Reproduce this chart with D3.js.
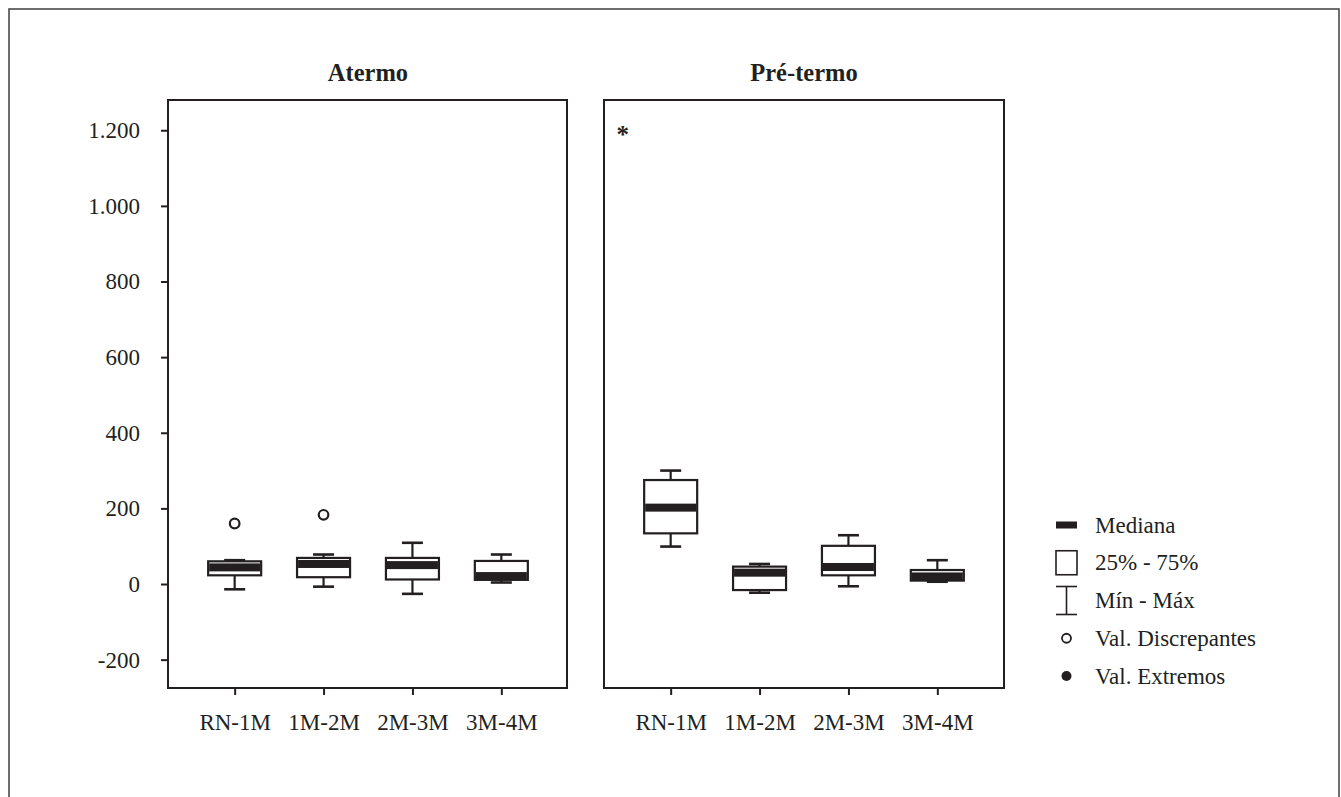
<!DOCTYPE html>
<html><head><meta charset="utf-8">
<script src="https://cdn.jsdelivr.net/npm/d3@7"></script>
<style>
body{margin:0;background:#fff}
svg{display:block}
text{font-family:"Liberation Serif","Times New Roman",serif;fill:#231f20}
</style>
</head><body>
<svg id="c" width="1341" height="797"></svg>
<script>
const categories = ["RN-1M","1M-2M","2M-3M","3M-4M"];
const groups = ["Atermo","Pré-termo"];
const yTicks = [-200,0,200,400,600,800,1000,1200];
const legendItems = ["Mediana","25% - 75%","Mín - Máx","Val. Discrepantes","Val. Extremos"];

// Atermo
const atermoMin    = [-14, -7, -26, 4];
const atermoQ1     = [23, 18, 12, 11];
const atermoMedian = [44, 53, 50, 21];
const atermoQ3     = [60, 69, 69, 61];
const atermoMax    = [63, 78, 109, 78];
const atermoOutliers = [[160],[183],[],[]];
const atermoExtremes = [[],[],[],[]];

// Pré-termo
const pretermoMin    = [99, -23, -6, 6];
const pretermoQ1     = [134, -16, 23, 9];
const pretermoMedian = [202, 30, 45, 20];
const pretermoQ3     = [275, 46, 101, 37];
const pretermoMax    = [300, 53, 129, 63];
const pretermoOutliers = [[],[],[],[]];
const pretermoExtremes = [[1200],[],[],[]];

const series = [
  {min:atermoMin,q1:atermoQ1,med:atermoMedian,q3:atermoQ3,max:atermoMax,out:atermoOutliers,ext:atermoExtremes},
  {min:pretermoMin,q1:pretermoQ1,med:pretermoMedian,q3:pretermoQ3,max:pretermoMax,out:pretermoOutliers,ext:pretermoExtremes}
];

const ink = "#231f20";
const fontSize = 23;
const svg = d3.select("#c");

// outer frame
svg.append("rect").attr("x",9).attr("y",9).attr("width",1330).attr("height",800)
  .attr("fill","none").attr("stroke","#4a4a4a").attr("stroke-width",1.6);

const plotTop = 100, plotBottom = 688, panelW = 400;
const panelX = [168, 604];
const y = d3.scaleLinear().domain([-275,1280]).range([plotBottom, plotTop]);
const x = d3.scalePoint().domain(categories).range([0, panelW]).padding(0.75);
const loc = d3.formatLocale({decimal:",", thousands:".", grouping:[3], currency:["",""], minus:"-"});
const fmt = loc.format(",d");

const boxW = 53, capW = 21, medH = 8;

groups.forEach((gname, gi) => {
  const s = series[gi];
  const g = svg.append("g").attr("transform", `translate(${panelX[gi]},0)`);

  g.append("text").attr("x", panelW/2).attr("y", 81).attr("text-anchor","middle")
    .attr("font-weight","bold").attr("font-size", 24.5).text(gname);

  // x axis
  const xa = g.append("g").attr("transform", `translate(0,${plotBottom})`)
    .call(d3.axisBottom(x).tickSize(7).tickSizeOuter(0).tickPadding(19));
  xa.select(".domain").remove();
  xa.selectAll(".tick line").attr("stroke", ink).attr("stroke-width", 2);
  xa.selectAll(".tick text").attr("font-size", fontSize).attr("font-family","Liberation Serif, serif").attr("fill", ink);

  if (gi === 0) {
    const ya = g.append("g")
      .call(d3.axisLeft(y).tickValues(yTicks).tickSize(7).tickSizeOuter(0).tickPadding(21).tickFormat(fmt));
    ya.select(".domain").remove();
    ya.selectAll(".tick line").attr("stroke", ink).attr("stroke-width", 2);
    ya.selectAll(".tick text").attr("font-size", fontSize).attr("font-family","Liberation Serif, serif").attr("fill", "#333");
  }

  categories.forEach((c, i) => {
    const cx = x(c);
    const b = g.append("g");
    b.append("line").attr("x1",cx).attr("x2",cx).attr("y1",y(s.max[i])).attr("y2",y(s.q3[i]))
      .attr("stroke",ink).attr("stroke-width",2.2);
    b.append("line").attr("x1",cx).attr("x2",cx).attr("y1",y(s.q1[i])).attr("y2",y(s.min[i]))
      .attr("stroke",ink).attr("stroke-width",2.2);
    b.append("line").attr("x1",cx-capW/2).attr("x2",cx+capW/2).attr("y1",y(s.max[i])).attr("y2",y(s.max[i]))
      .attr("stroke",ink).attr("stroke-width",2.6);
    b.append("line").attr("x1",cx-capW/2).attr("x2",cx+capW/2).attr("y1",y(s.min[i])).attr("y2",y(s.min[i]))
      .attr("stroke",ink).attr("stroke-width",2.6);
    b.append("rect").attr("x",cx-boxW/2).attr("y",y(s.q3[i])).attr("width",boxW)
      .attr("height",y(s.q1[i])-y(s.q3[i])).attr("fill","#fff").attr("stroke",ink).attr("stroke-width",2.2);
    b.append("rect").attr("x",cx-boxW/2+1).attr("y",y(s.med[i])-medH/2).attr("width",boxW-2)
      .attr("height",medH).attr("fill",ink);
    s.out[i].forEach(v => {
      b.append("circle").attr("cx",cx).attr("cy",y(v)).attr("r",4.8)
        .attr("fill","#fff").attr("stroke",ink).attr("stroke-width",2.2);
    });
    s.ext[i].forEach(v => {
      b.append("text").attr("x",cx-48).attr("y",y(v)+13).attr("text-anchor","middle")
        .attr("font-size",25).attr("font-weight","bold").text("*");
    });
  });

  g.append("rect").attr("x",0).attr("y",plotTop).attr("width",panelW-(gi===0?1:0)).attr("height",plotBottom-plotTop)
    .attr("fill","none").attr("stroke",ink).attr("stroke-width",2);
});

// legend
const lx = 1056, lw = 21;
const rowY = d3.scalePoint().domain(legendItems).range([525, 676]);
const lg = svg.append("g");
legendItems.forEach((t, i) => {
  const cy = rowY(t);
  const cx = lx + lw/2;
  if (i === 0) {
    lg.append("rect").attr("x",lx).attr("y",cy-3.5).attr("width",lw).attr("height",7).attr("fill",ink);
  } else if (i === 1) {
    lg.append("rect").attr("x",lx).attr("y",cy-12).attr("width",lw).attr("height",24)
      .attr("fill","none").attr("stroke",ink).attr("stroke-width",1.6);
  } else if (i === 2) {
    lg.append("line").attr("x1",lx).attr("x2",lx+lw).attr("y1",cy-14).attr("y2",cy-14).attr("stroke",ink).attr("stroke-width",1.6);
    lg.append("line").attr("x1",lx).attr("x2",lx+lw).attr("y1",cy+14).attr("y2",cy+14).attr("stroke",ink).attr("stroke-width",1.6);
    lg.append("line").attr("x1",cx).attr("x2",cx).attr("y1",cy-14).attr("y2",cy+14).attr("stroke",ink).attr("stroke-width",1.6);
  } else if (i === 3) {
    lg.append("circle").attr("cx",cx).attr("cy",cy).attr("r",4.5).attr("fill","#fff").attr("stroke",ink).attr("stroke-width",1.8);
  } else {
    lg.append("circle").attr("cx",cx).attr("cy",cy).attr("r",5).attr("fill",ink);
  }
  lg.append("text").attr("x",1095).attr("y",cy+7.5).attr("font-size",fontSize).text(t);
});
</script>
</body></html>
